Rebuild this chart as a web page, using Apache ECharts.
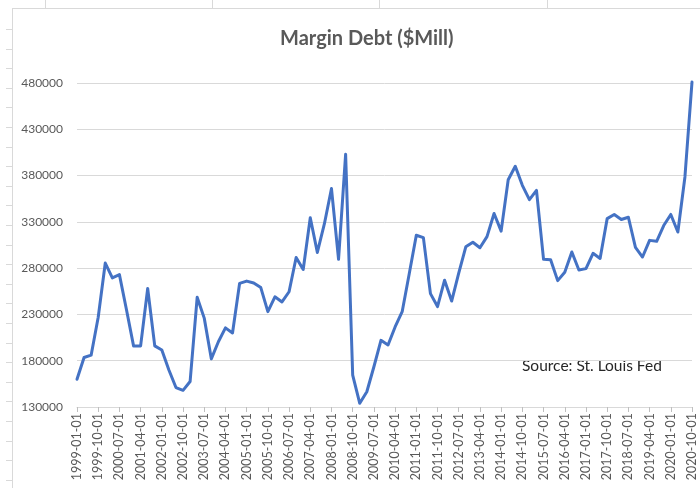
<!DOCTYPE html>
<html>
<head>
<meta charset="utf-8">
<script src="https://cdn.jsdelivr.net/npm/echarts@6/dist/echarts.min.js"></script>
<style>
  html, body { margin: 0; padding: 0; background: #ffffff; }
  #chart { width: 700px; height: 488px; }
</style>
</head>
<body>
<div id="chart"></div>
<script>
// Quarterly observation dates, 1999 Q1 through 2020 Q4
const years = [1999, 2000, 2001, 2002, 2003, 2004, 2005, 2006, 2007, 2008, 2009,
               2010, 2011, 2012, 2013, 2014, 2015, 2016, 2017, 2018, 2019, 2020];
const quarterMonths = ['01', '04', '07', '10'];
const dates = [];
years.forEach(function (y) {
  quarterMonths.forEach(function (m) { dates.push(y + '-' + m + '-01'); });
});

// Margin debt, millions of dollars
const marginDebt = [
  160000, 183500, 186000, 227000, 285500, 269500, 273000, 235000,
  196000, 196000, 258000, 196000, 191500, 170000, 151000, 148000,
  157500, 248500, 226000, 182000, 200500, 215500, 210000, 263500,
  266000, 264000, 259000, 233000, 249000, 243500, 254500, 291500,
  278500, 334500, 297000, 328000, 366000, 289500, 403000, 164500,
  134000, 146500, 173500, 202000, 197000, 216500, 233000, 274000,
  315500, 313000, 252500, 238500, 267000, 244500, 274500, 303000,
  308000, 302000, 314000, 339000, 320000, 375500, 390000, 369500,
  354000, 364000, 289500, 289000, 266500, 275500, 297500, 278000,
  279500, 296000, 290500, 333500, 338000, 332500, 335000, 302500,
  292000, 310000, 309000, 326000, 338000, 319000, 378500, 481000
];

// Value axis range
const yMin = 130000;
const yMax = 480000;
const yStep = 50000;

const titleText = 'Margin Debt ($Mill)';
const sourceText = 'Source: St. Louis Fed';

// Worksheet frame: cell borders peeking around the embedded chart
const frameColor = '#d9d9d9';
const frameElements = [
  { type: 'line', shape: { x1: 12, y1: 8.5, x2: 700, y2: 8.5 }, style: { stroke: frameColor, lineWidth: 1 }, silent: true },
  { type: 'line', shape: { x1: 12.5, y1: 8, x2: 12.5, y2: 488 }, style: { stroke: frameColor, lineWidth: 1 }, silent: true }
];
[45, 212, 379, 547].forEach(function (x) {
  frameElements.push({ type: 'line', shape: { x1: x + 0.5, y1: 0, x2: x + 0.5, y2: 8 }, style: { stroke: frameColor, lineWidth: 1 }, silent: true });
});
for (let k = 0; k < 24; k++) {
  const y = Math.round(29 + k * 19.6) + 0.5;
  frameElements.push({ type: 'line', shape: { x1: 6, y1: y, x2: 12, y2: y }, style: { stroke: frameColor, lineWidth: 1 }, silent: true });
}

const chart = echarts.init(document.getElementById('chart'), null, { renderer: 'canvas' });

chart.setOption({
  animation: false,
  backgroundColor: '#ffffff',
  title: {
    text: titleText,
    left: 275,
    top: 24,
    textStyle: {
      fontFamily: 'Lato',
      fontSize: 20,
      fontWeight: 'bold',
      color: '#595959'
    }
  },
  grid: {
    left: 77,
    right: 8,
    top: 83,
    bottom: 81,
    containLabel: false
  },
  xAxis: {
    type: 'category',
    data: dates,
    boundaryGap: false,
    axisLine: { show: true, lineStyle: { color: '#d9d9d9', width: 1 } },
    axisTick: { show: true, interval: 2, length: 5, lineStyle: { color: '#bfbfbf' } },
    axisLabel: {
      interval: 2,
      rotate: 90,
      margin: 6,
      fontFamily: 'Lato',
      fontSize: 12.5,
      color: '#595959'
    },
    splitLine: { show: false }
  },
  yAxis: {
    type: 'value',
    min: yMin,
    max: yMax,
    interval: yStep,
    axisLine: { show: false },
    axisTick: { show: false },
    axisLabel: {
      margin: 14,
      fontFamily: 'Lato',
      fontSize: 12,
      color: '#595959',
      formatter: function (v) { return String(v); }
    },
    splitLine: { show: true, lineStyle: { color: '#d9d9d9', width: 1 } }
  },
  series: [{
    type: 'line',
    data: marginDebt,
    showSymbol: false,
    symbol: 'none',
    clip: false,
    lineStyle: { color: '#4472c4', width: 3, join: 'round', cap: 'round' }
  }],
  graphic: frameElements.concat([
    {
      type: 'text',
      left: 522,
      top: 358,
      silent: true,
      style: {
        text: sourceText,
        fontFamily: 'Lato',
        fontSize: 15.5,
        fill: '#262626'
      }
    }
  ])
});
</script>
</body>
</html>
